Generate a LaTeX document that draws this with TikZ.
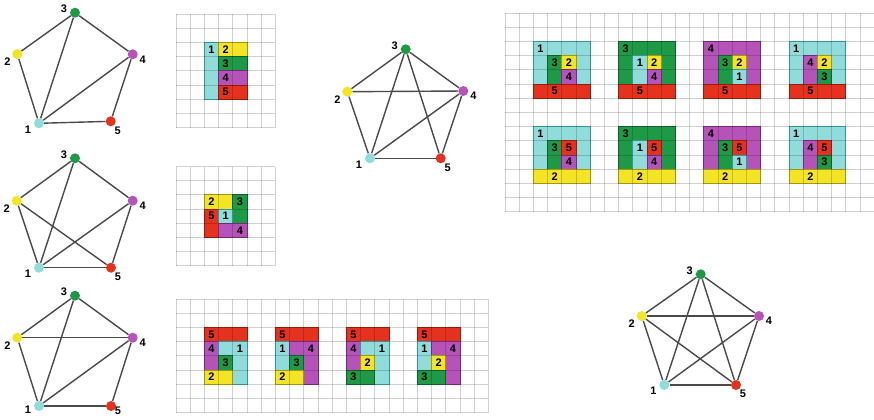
\documentclass[tikz,border=0pt]{standalone}
\usepackage{fontspec}
\setmainfont{Liberation Sans}
\definecolor{cy}{HTML}{8FDCDB}
\definecolor{cyD}{HTML}{3FB8B8}
\definecolor{gr}{HTML}{1E9A47}
\definecolor{grD}{HTML}{137636}
\definecolor{ye}{HTML}{F4E426}
\definecolor{yeD}{HTML}{C8B712}
\definecolor{ma}{HTML}{B653B9}
\definecolor{maD}{HTML}{8E3592}
\definecolor{re}{HTML}{E4321F}
\definecolor{reD}{HTML}{B52313}
\definecolor{ed}{HTML}{4A4A4A}
\def\labcy{1}\def\labye{2}\def\labgr{3}\def\labma{4}\def\labre{5}
\def\fivedy{9}\def\onedy{6}
\tikzset{
  lbl/.style={font=\bfseries\fontsize{11}{11}\selectfont, inner sep=0pt},
  vtx/.style={circle, inner sep=0pt, minimum size=10bp},
  edge/.style={draw=ed, line width=1.4bp},
  gridln/.style={draw=black, opacity=0.18, line width=0.9bp},
  reg/.style={fill=#1, draw=#1D, line width=0.9bp},
}
\newcommand\cellgrid[2]{%
  \foreach \i in {0,...,#1} \draw[gridln] (\i,0) -- (\i,#2);
  \foreach \j in {0,...,#2} \draw[gridln] (0,\j) -- (#1,\j);}
\newcommand\lab[3]{\node[lbl] at (#1,#2) {\csname lab#3\endcsname};}
% big block: c r outer A B C bottom
\newcommand\bigblock[7]{%
  \filldraw[reg=#3] (#1,#2) rectangle ++(4,3);
  \filldraw[reg=#4] (#1+1,#2+1) rectangle ++(1,2);
  \filldraw[reg=#5] (#1+2,#2+1) rectangle ++(1,1);
  \filldraw[reg=#6] (#1+2,#2+2) rectangle ++(1,1);
  \filldraw[reg=#7] (#1,#2+3) rectangle ++(4,1);
}
\newcommand\biglabels[7]{%
  \lab{#1+0.5}{#2+0.5}{#3}
  \lab{#1+1.5}{#2+1.5}{#4}
  \lab{#1+2.5}{#2+1.5}{#5}
  \lab{#1+2.5}{#2+2.5}{#6}
  \lab{#1+1.5}{#2+3.5}{#7}
}
% bottom block: c r firstcol Lshape single bottom
\newcommand\botblock[6]{%
  \filldraw[reg=re] (#1,#2) rectangle ++(3,1);
  \filldraw[reg=#3] (#1,#2+1) rectangle ++(1,2);
  \filldraw[reg=#4] (#1+1,#2+1) -- (#1+3,#2+1) -- (#1+3,#2+4) -- (#1+2,#2+4) -- (#1+2,#2+2) -- (#1+1,#2+2) -- cycle;
  \filldraw[reg=#5] (#1+1,#2+2) rectangle ++(1,1);
  \filldraw[reg=#6] (#1,#2+3) rectangle ++(2,1);
}
\newcommand\botlabels[6]{%
  \lab{#1+0.5}{#2+0.5}{re}
  \lab{#1+0.5}{#2+1.5}{#3}
  \lab{#1+2.5}{#2+1.5}{#4}
  \lab{#1+1.5}{#2+2.5}{#5}
  \lab{#1+0.5}{#2+3.5}{#6}
}
\newcommand\graphverts[6]{%
  \node[vtx,fill=cy] (#1-1) at (#2) {};
  \node[vtx,fill=ye] (#1-2) at (#3) {};
  \node[vtx,fill=gr] (#1-3) at (#4) {};
  \node[vtx,fill=ma] (#1-4) at (#5) {};
  \node[vtx,fill=re] (#1-5) at (#6) {};
  \path (#1-1) ++(-11,\onedy) node[lbl] {1};
  \path (#1-2) ++(-10,8) node[lbl] {2};
  \path (#1-3) ++(-11,-4) node[lbl] {3};
  \path (#1-4) ++(10,5) node[lbl] {4};
  \path (#1-5) ++(7,\fivedy) node[lbl] {5};
}
\begin{document}
\begin{tikzpicture}[x=1bp,y=-1bp]
\useasboundingbox (0,0) rectangle (874,419);
\fill[white] (0,0) rectangle (874,419);

% ---------- top-left grid ----------
\begin{scope}[shift={(176,14)},x=14.2bp,y=-14.2bp]
  \filldraw[reg=cy] (2,2) rectangle (3,6);
  \filldraw[reg=ye] (3,2) rectangle (5,3);
  \filldraw[reg=gr] (3,3) rectangle (5,4);
  \filldraw[reg=ma] (3,4) rectangle (5,5);
  \filldraw[reg=re] (3,5) rectangle (5,6);
  \cellgrid{7}{8}
  \lab{2.5}{2.5}{cy}
  \lab{3.5}{2.5}{ye}
  \lab{3.5}{3.5}{gr}
  \lab{3.5}{4.5}{ma}
  \lab{3.5}{5.5}{re}
\end{scope}

% ---------- middle-left grid ----------
\begin{scope}[shift={(176,166.5)},x=14.2bp,y=-14.2bp]
  \filldraw[reg=ye] (2,2) rectangle (4,3);
  \filldraw[reg=gr] (4,2) rectangle (5,4);
  \filldraw[reg=re] (2,3) rectangle (3,5);
  \filldraw[reg=cy] (3,3) rectangle (4,4);
  \filldraw[reg=ma] (3,4) rectangle (5,5);
  \cellgrid{7}{7}
  \lab{2.5}{2.5}{ye}
  \lab{4.5}{2.5}{gr}
  \lab{2.5}{3.5}{re}
  \lab{3.5}{3.5}{cy}
  \lab{4.5}{4.5}{ma}
\end{scope}

% ---------- bottom grid ----------
\begin{scope}[shift={(176,299)},x=14.2bp,y=-14.2bp]
  \botblock{2}{2}{ma}{cy}{gr}{ye}
  \botblock{7}{2}{cy}{ma}{gr}{ye}
  \botblock{12}{2}{ma}{cy}{ye}{gr}
  \botblock{17}{2}{cy}{ma}{ye}{gr}
  \cellgrid{22}{8}
  \botlabels{2}{2}{ma}{cy}{gr}{ye}
  \botlabels{7}{2}{cy}{ma}{gr}{ye}
  \botlabels{12}{2}{ma}{cy}{ye}{gr}
  \botlabels{17}{2}{cy}{ma}{ye}{gr}
\end{scope}

% ---------- top-right grid ----------
\begin{scope}[shift={(505,13)},x=14.2bp,y=-14.2bp]
  \bigblock{2}{2}{cy}{gr}{ye}{ma}{re}
  \bigblock{8}{2}{gr}{cy}{ye}{ma}{re}
  \bigblock{14}{2}{ma}{gr}{ye}{cy}{re}
  \bigblock{20}{2}{cy}{ma}{ye}{gr}{re}
  \bigblock{2}{8}{cy}{gr}{re}{ma}{ye}
  \bigblock{8}{8}{gr}{cy}{re}{ma}{ye}
  \bigblock{14}{8}{ma}{gr}{re}{cy}{ye}
  \bigblock{20}{8}{cy}{ma}{re}{gr}{ye}
  \cellgrid{26}{14}
  \biglabels{2}{2}{cy}{gr}{ye}{ma}{re}
  \biglabels{8}{2}{gr}{cy}{ye}{ma}{re}
  \biglabels{14}{2}{ma}{gr}{ye}{cy}{re}
  \biglabels{20}{2}{cy}{ma}{ye}{gr}{re}
  \biglabels{2}{8}{cy}{gr}{re}{ma}{ye}
  \biglabels{8}{8}{gr}{cy}{re}{ma}{ye}
  \biglabels{14}{8}{ma}{gr}{re}{cy}{ye}
  \biglabels{20}{8}{cy}{ma}{re}{gr}{ye}
\end{scope}

% ---------- graphs ----------
\graphverts{ga}{39,123.3}{17.3,54}{75,12.7}{132.7,54.3}{110.7,121.3}
\foreach \a/\b in {3/2,3/1,3/4,2/1,1/4,4/5,1/5} \draw[edge] (ga-\a) -- (ga-\b);

\graphverts{gb}{39,267.7}{16.7,200.7}{75,158.3}{132.7,200.7}{111,267.7}
\foreach \a/\b in {3/2,3/1,3/4,2/1,2/5,1/4,4/5,1/5} \draw[edge] (gb-\a) -- (gb-\b);

\def\fivedy{5}\def\onedy{4}
\graphverts{gc}{39,406}{17.3,337.7}{75,295.7}{132.7,337.7}{111,406}
\foreach \a/\b in {3/2,3/1,3/4,2/4,2/1,1/4,4/5,1/5} \draw[edge] (gc-\a) -- (gc-\b);
\def\fivedy{9}\def\onedy{6}

\graphverts{gd}{370,158.3}{347.3,91.7}{405.7,49.3}{463.3,91}{440.7,158.3}
\foreach \a/\b in {3/2,3/1,3/4,3/5,2/4,2/1,1/4,4/5,1/5} \draw[edge] (gd-\a) -- (gd-\b);

\graphverts{ge}{664.3,385}{641.7,316}{700.7,274.3}{759,316}{736,385}
\foreach \a/\b in {1/2,1/3,1/4,1/5,2/3,2/4,2/5,3/4,3/5,4/5} \draw[edge] (ge-\a) -- (ge-\b);
\end{tikzpicture}
\end{document}
